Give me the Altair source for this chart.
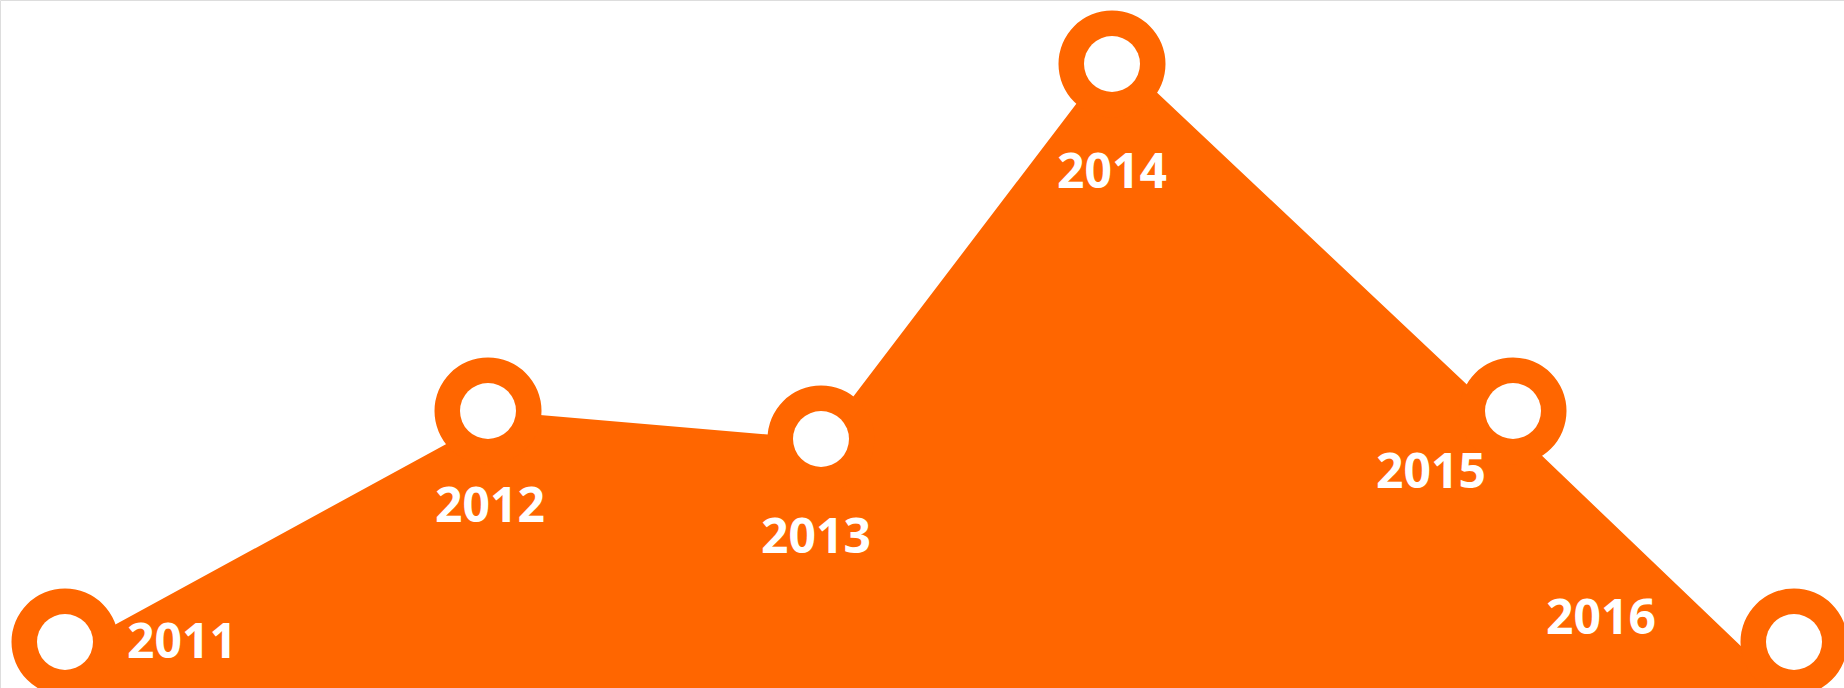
import altair as alt
import pandas as pd

# Years shown on the chart
years = ["2011", "2012", "2013", "2014", "2015", "2016"]

# Marker (ring) positions, in chart units (x along the band, v = height above the base)
marker_x = [65, 488, 821, 1112, 1513, 1794]
marker_v = [46, 277, 249, 624, 277, 46]

# Profile of the filled area (its own vertices)
area_x = [65, 505, 821, 1115, 1513, 1794]
area_v = [36, 276, 249, 635, 260, -9]

# Year label anchor points
label_x = [182, 490, 816, 1112, 1431, 1601]
label_v = [30, 166, 135, 500, 200, 54]

ORANGE = "#FF6600"
W, H = 1844, 688

markers = pd.DataFrame({"year": years, "x": marker_x, "v": marker_v})
area_df = pd.DataFrame({"year": years, "x": area_x, "v": area_v})
labels = pd.DataFrame({"year": years, "x": label_x, "v": label_v})

xs = alt.Scale(domain=[0, W], range=[0, W], nice=False, zero=False)
ys = alt.Scale(domain=[0, H], range=[H, 0], nice=False, zero=False)


def X():
    return alt.X("x:Q", scale=xs, axis=None)


def Y():
    return alt.Y("v:Q", scale=ys, axis=None, stack=None)


area = alt.Chart(area_df).mark_area(color=ORANGE, opacity=1, clip=True).encode(
    x=X(), y=Y()
)

outer = alt.Chart(markers).mark_point(
    shape="circle", filled=True, color=ORANGE, opacity=1, size=107 * 107, strokeWidth=0
).encode(x=X(), y=Y())

inner = alt.Chart(markers).mark_point(
    shape="circle", filled=True, color="#FFFFFF", opacity=1, size=56 * 56, strokeWidth=0
).encode(x=X(), y=Y())

text = alt.Chart(labels).mark_text(
    color="#FFFFFF", font="Open Sans", fontSize=48, fontWeight="bold",
    align="center", baseline="alphabetic"
).encode(x=X(), y=Y(), text="year:N")

chart = (
    alt.layer(area, outer, inner, text)
    .properties(width=W, height=H, padding=0, autosize=alt.AutoSizeParams(type="none"))
    .configure_view(stroke="transparent", strokeWidth=0, fill="#FFFFFF")
    .configure(background="#FFFFFF")
)

chart.save("out.html", embed_options={"renderer": "svg", "actions": False})
